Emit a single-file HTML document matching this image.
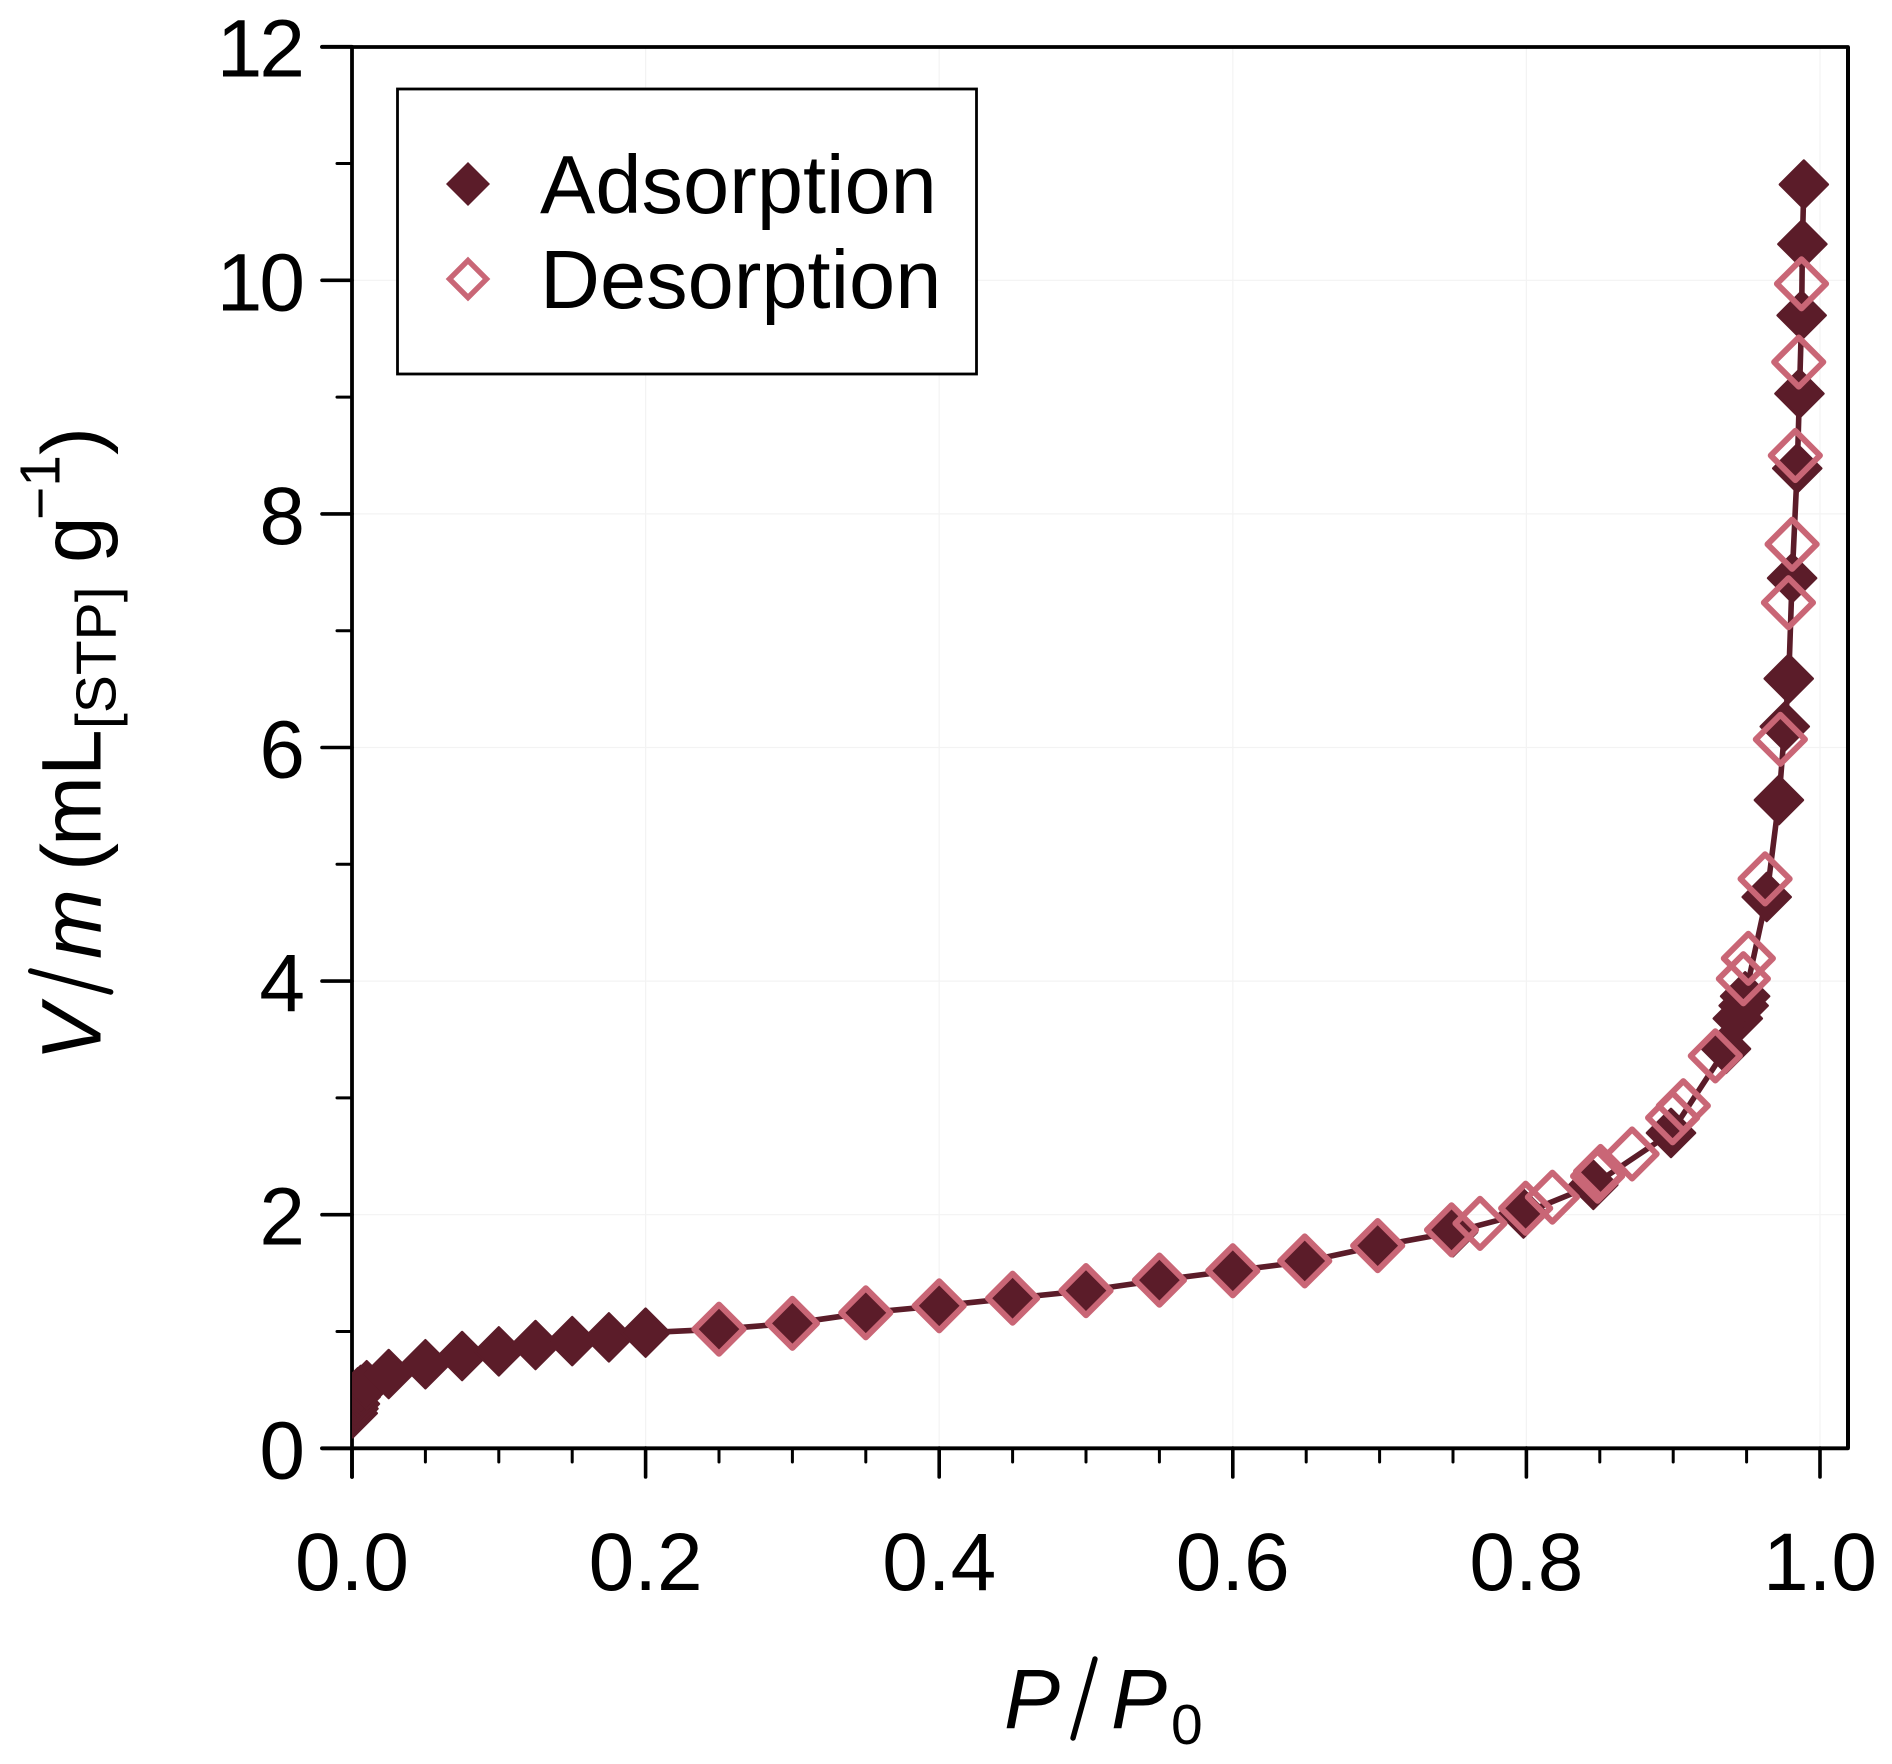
<!DOCTYPE html>
<html>
<head>
<meta charset="utf-8">
<title>Adsorption isotherm</title>
<style>
html,body{margin:0;padding:0;background:#fff;}
svg{display:block;}
text{font-family:"Liberation Sans",Arial,sans-serif;fill:#000;}
</style>
</head>
<body>
<svg id="chart" xmlns="http://www.w3.org/2000/svg" width="1892" height="1764" viewBox="0 0 1892 1764">
  <defs><clipPath id="plot-clip"><rect x="352" y="47" width="1496" height="1401"/></clipPath></defs>
  <g id="grid"></g>
  <g id="axes"></g>
  <g id="series" clip-path="url(#plot-clip)"></g>

  <g>
    <rect x="397.5" y="89" width="579" height="285" fill="#fff" stroke="#000" stroke-width="2.8"/>
    <polygon points="468,162 490,184 468,206 446,184" fill="#5b1c29"/>
    <text x="540" y="213" font-size="83">Adsorption</text>
    <polygon points="468,260.5 486.5,279 468,297.5 449.5,279" fill="none" stroke="#c96676" stroke-width="5.4"/>
    <text x="540" y="308" font-size="83">Desorption</text>
  </g>

  <g>
    <text x="1004" y="1728" font-size="84" font-style="italic">P</text>
    <line x1="1073" y1="1738" x2="1095" y2="1659" stroke="#000" stroke-width="5.4" stroke-linecap="round"/>
    <text x="1111" y="1728" font-size="84" font-style="italic">P</text>
    <text x="1171" y="1744" font-size="57">0</text>
  </g>

  <g transform="translate(100.7 1054) rotate(-90)">
    <text x="-7" y="0" font-size="84" font-style="italic">V</text>
    <line x1="62" y1="10" x2="83" y2="-70" stroke="#000" stroke-width="5.4" stroke-linecap="round"/>
    <text x="95" y="0" font-size="84" font-style="italic">m</text>
    <text x="183" y="0" font-size="84">(</text>
    <text x="208" y="0" font-size="84">mL</text>
    <text x="325" y="15" font-size="57">[STP]</text>
    <text x="491" y="0" font-size="84">g</text>
    <text x="534" y="-41" font-size="57">−1</text>
    <text x="599" y="0" font-size="84">)</text>
  </g>
</svg>

<script>
// Data
const adsorptionP = [0.0005,0.001,0.002,0.0025,0.004,0.006,0.01,0.025,0.05,0.075,0.1,0.125,0.15,0.175,0.2,0.25,0.3,0.35,0.4,0.45,0.5,0.55,0.6,0.65,0.7,0.75,0.798,0.8456,0.8985,0.936,0.944,0.948,0.949,0.9637,0.972,0.976,0.9787,0.981,0.9845,0.986,0.9875,0.988,0.989];
const adsorptionV = [0.30,0.34,0.38,0.44,0.48,0.50,0.54,0.636,0.72,0.79,0.83,0.884,0.918,0.95,0.99,1.02,1.07,1.16,1.22,1.285,1.35,1.44,1.52,1.60,1.735,1.85,2.01,2.255,2.70,3.42,3.68,3.79,3.87,4.72,5.55,6.18,6.59,7.45,8.39,9.03,9.70,10.31,10.82];
const desorptionP = [0.9874,0.9855,0.9832,0.981,0.9785,0.973,0.9626,0.9512,0.9478,0.9287,0.9069,0.8996,0.872,0.8505,0.8485,0.8177,0.7995,0.7684,0.749,0.6987,0.649,0.6,0.55,0.5,0.45,0.4,0.35,0.3,0.25];
const desorptionV = [9.97,9.30,8.50,7.74,7.24,6.07,4.875,4.195,4.02,3.36,2.933,2.83,2.52,2.37,2.33,2.15,2.055,1.926,1.87,1.735,1.604,1.52,1.44,1.35,1.285,1.22,1.16,1.07,1.02];
const xMajorTicks = [0,0.2,0.4,0.6,0.8,1.0];
const xMajorLabels = ["0.0","0.2","0.4","0.6","0.8","1.0"];
const xMinorTicks = [0.05,0.1,0.15,0.25,0.3,0.35,0.45,0.5,0.55,0.65,0.7,0.75,0.85,0.9,0.95];
const yMajorTicks = [0,2,4,6,8,10,12];
const yMajorLabels = ["0","2","4","6","8","10","12"];
const yMinorTicks = [1,3,5,7,9,11];

const NS = 'http://www.w3.org/2000/svg';
const xScale = p => 352 + 1468 * p;
const yScale = v => 1448.3 - 116.8 * v;

function make(tag, parent, attrs) {
  const el = document.createElementNS(NS, tag);
  for (const k in attrs) el.setAttribute(k, attrs[k]);
  parent.appendChild(el);
  return el;
}
function diamondPoints(cx, cy, r) {
  return [cx, cy - r, cx + r, cy, cx, cy + r, cx - r, cy].join(',');
}

const grid = document.getElementById('grid');
const axes = document.getElementById('axes');
const series = document.getElementById('series');

// gridlines
xMajorTicks.slice(1).forEach(p => {
  const el = make('line', grid, {x1: xScale(p), x2: xScale(p), y1: 47, y2: 1448, stroke: '#f3f3f3', 'stroke-width': 1.2});
  
  
});
yMajorTicks.slice(1, -1).forEach(v => {
  const el = make('line', grid, {x1: 352, x2: 1848, y1: yScale(v), y2: yScale(v), stroke: '#f3f3f3', 'stroke-width': 1.2});
  
  
});

// frame
const frameTop = make('line', axes, {x1: 322, x2: 1848, y1: 47, y2: 47, stroke: '#000', 'stroke-width': 3.8, 'stroke-linecap': 'round'});


const frameRight = make('line', axes, {x1: 1848, x2: 1848, y1: 47, y2: 1448, stroke: '#000', 'stroke-width': 4});


const frameBottom = make('line', axes, {x1: 322, x2: 1848, y1: 1448.3, y2: 1448.3, stroke: '#000', 'stroke-width': 3.8, 'stroke-linecap': 'round'});


const frameLeft = make('line', axes, {x1: 352, x2: 352, y1: 47, y2: 1477, stroke: '#000', 'stroke-width': 3.8, 'stroke-linecap': 'round'});



// x ticks
xMajorTicks.forEach((p, i) => {
  const t = make('line', axes, {x1: xScale(p), x2: xScale(p), y1: 1448, y2: 1477, stroke: '#000', 'stroke-width': 3.6, 'stroke-linecap': 'round'});
  
  
  const l = make('text', axes, {x: xScale(p), y: 1590, 'font-size': 82, 'text-anchor': 'middle'});
  l.textContent = xMajorLabels[i];
  
  
});
xMinorTicks.forEach(p => {
  const t = make('line', axes, {x1: xScale(p), x2: xScale(p), y1: 1448, y2: 1462, stroke: '#000', 'stroke-width': 3, 'stroke-linecap': 'round'});
  
  
});

// y ticks
yMajorTicks.forEach((v, i) => {
  const t = make('line', axes, {x1: 322, x2: 352, y1: yScale(v), y2: yScale(v), stroke: '#000', 'stroke-width': 3.6, 'stroke-linecap': 'round'});
  
  
  const twoDigit = yMajorLabels[i].length > 1;
  const l = make('text', axes, {x: twoDigit ? 302 : 305, y: yScale(v) + 30, 'font-size': 82, 'text-anchor': 'end', 'letter-spacing': twoDigit ? -3 : 0});
  l.textContent = yMajorLabels[i];
  
  
});
yMinorTicks.forEach(v => {
  const t = make('line', axes, {x1: 337, x2: 352, y1: yScale(v), y2: yScale(v), stroke: '#000', 'stroke-width': 3, 'stroke-linecap': 'round'});
  
  
});

// adsorption line + filled markers
const adsLine = make('polyline', series, {
  points: adsorptionP.map((p, i) => xScale(p) + ',' + yScale(adsorptionV[i])).join(' '),
  fill: 'none', stroke: '#5b1c29', 'stroke-width': 5.6, 'stroke-linejoin': 'round'
});


adsorptionP.forEach((p, i) => {
  const m = make('polygon', series, {
    points: diamondPoints(xScale(p), yScale(adsorptionV[i]), 24),
    fill: '#5b1c29', stroke: '#5b1c29', 'stroke-width': 2.5, 'stroke-linejoin': 'round'
  });
  
  
});

// desorption hollow markers
desorptionP.forEach((p, i) => {
  const m = make('polygon', series, {
    points: diamondPoints(xScale(p), yScale(desorptionV[i]), 24.6),
    fill: 'none', stroke: '#c96676', 'stroke-width': 6, 'stroke-linejoin': 'round'
  });
  
  
});
</script>
</body>
</html>
